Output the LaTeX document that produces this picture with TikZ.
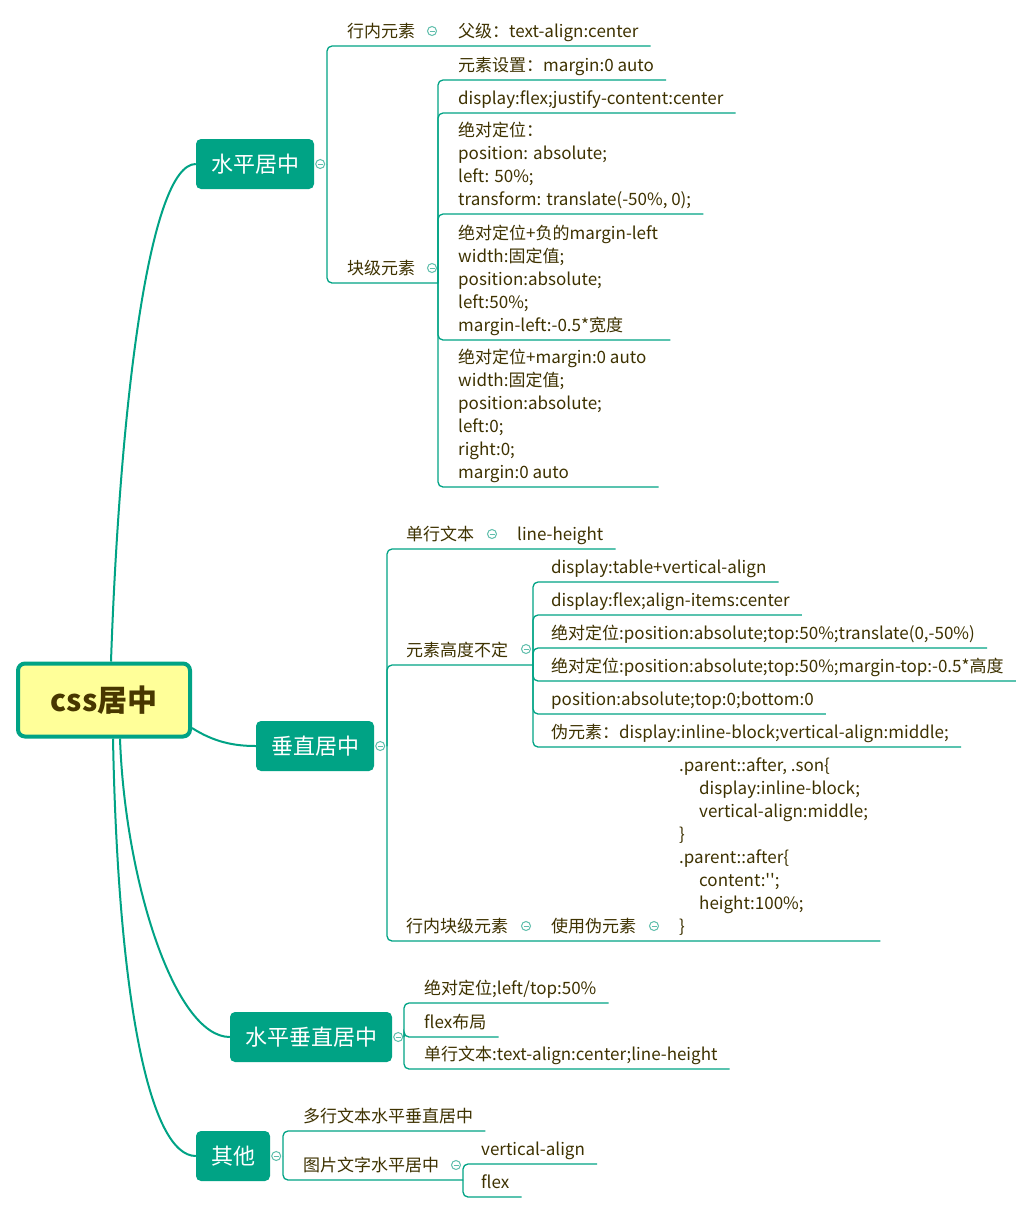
\documentclass[tikz,border=0pt]{standalone}
\usepackage{fontspec}
\setmainfont{Noto Sans CJK SC}[Ligatures=TeXOff]
\usepackage{tikz}
\definecolor{mindgreen}{RGB}{0,163,133}
\definecolor{foldgreen}{RGB}{95,190,172}
\definecolor{leafbrown}{RGB}{62,50,0}
\definecolor{rootyellow}{RGB}{255,255,153}
\definecolor{rootbrown}{RGB}{72,55,0}

\begin{document}
\begin{tikzpicture}[x=1pt, y=-1pt,
    root/.style={draw=mindgreen, line width=4pt, fill=rootyellow, rounded corners=7pt,
        minimum width=172pt, minimum height=73pt, text=rootbrown,
        font=\fontsize{30}{36}\selectfont\bfseries},
    topic/.style={fill=mindgreen, rounded corners=5pt, inner xsep=15pt, minimum height=50pt,
        text=white, font=\fontsize{22}{26}\selectfont},
    leaf/.style={anchor=south west, inner xsep=0pt, inner ysep=4pt, text depth=4.7pt,
        align=left, text=leafbrown, font=\fontsize{17}{23}\selectfont},
    trunk/.style={draw=mindgreen, line width=2pt},
    branch/.style={draw=mindgreen, line width=1.3pt, rounded corners=5pt},
    fold/.style={circle, draw=foldgreen, fill=white, line width=1pt, minimum size=9pt, inner sep=0pt,
        path picture={\draw[foldgreen, line width=1pt] ([xshift=-2.5pt]path picture bounding box.center) -- ([xshift=2.5pt]path picture bounding box.center);}}
]
    \path[fill=white, use as bounding box] (0,0) rectangle (1036,1213);

    \node[root] (css) at (104,700) {css居中};

    \node[topic] (hc) at (255,164) {水平居中};
    \node[topic] (vc) at (315,746) {垂直居中};
    \node[topic] (hv) at (311,1037) {水平垂直居中};
    \node[topic] (ot) at (233,1156) {其他};

    \draw[trunk] ([xshift=7pt]css.north) .. controls +(9,-261) and +(-46,0) .. (hc.west);
    \draw[trunk] ([yshift=-28pt]css.east) .. controls +(22,14) and +(-22,0) .. (vc.west);
    \draw[trunk] ([xshift=16pt]css.south) .. controls +(5,142) and +(-55,0) .. (hv.west);
    \draw[trunk] ([xshift=9pt]css.south) .. controls +(5,262) and +(-46,0) .. (ot.west);

    % 水平居中
    \node[fold] (hcf) at ([xshift=6pt]hc.east) {};
    \coordinate (hcj) at (327,164);
    \node[leaf] (inl) at (347,46) {行内元素};
    \node[fold] (inlf) at (432,31) {};
    \coordinate (inlj) at (438,46);
    \node[leaf] (inl1) at (458,46) {父级：text-align:center};
    \node[leaf] (blk) at (347,283) {块级元素};
    \node[fold] (blkf) at (432,268) {};
    \coordinate (blkj) at (438,283);
    \node[leaf] (b1) at (458,80) {元素设置：margin:0 auto};
    \node[leaf] (b2) at (458,113) {display:flex;justify-content:center};
    \node[leaf] (b3) at (458,214) {绝对定位：\\position: absolute;\\left: 50\%;\\transform: translate(-50\%, 0);};
    \node[leaf] (b4) at (458,340) {绝对定位+负的margin-left\\width:固定值;\\position:absolute;\\left:50\%;\\margin-left:-0.5*宽度};
    \node[leaf] (b5) at (458,487) {绝对定位+margin:0 auto\\width:固定值;\\position:absolute;\\left:0;\\right:0;\\margin:0 auto};

    \draw[branch] (hcj) |- (inl.south west) -- (inlj) -- ([xshift=12pt]inl1.south east);
    \draw[branch] (hcj) |- (blk.south west) -- (blkj);
    \draw[branch] (blkj) |- (b1.south west) -- ([xshift=12pt]b1.south east);
    \draw[branch] (blkj) |- (b2.south west) -- ([xshift=12pt]b2.south east);
    \draw[branch] (blkj) |- (b3.south west) -- ([xshift=12pt]b3.south east);
    \draw[branch] (blkj) |- (b4.south west) -- ([xshift=12pt]b4.south east);
    \draw[branch] (blkj) |- (b5.south west) -- ([xshift=12pt]b5.south east);

    % 垂直居中
    \node[fold] (vcf) at ([xshift=6pt]vc.east) {};
    \coordinate (vcj) at (387,746);
    \node[leaf] (sl) at (406,549) {单行文本};
    \node[fold] (slf) at (492,534) {};
    \coordinate (slj) at (498,549);
    \node[leaf] (sl1) at (517,549) {line-height};
    \node[leaf] (eh) at (406,665) {元素高度不定};
    \node[fold] (ehf) at (526,649) {};
    \coordinate (ehj) at (533,665);
    \node[leaf] (e1) at (551,582) {display:table+vertical-align};
    \node[leaf] (e2) at (551,615) {display:flex;align-items:center};
    \node[leaf] (e3) at (551,648) {绝对定位:position:absolute;top:50\%;translate(0,-50\%)};
    \node[leaf] (e4) at (551,681) {绝对定位:position:absolute;top:50\%;margin-top:-0.5*高度};
    \node[leaf] (e5) at (551,714) {position:absolute;top:0;bottom:0};
    \node[leaf] (e6) at (551,747) {伪元素：display:inline-block;vertical-align:middle;};
    \node[leaf] (ib) at (406,941) {行内块级元素};
    \node[fold] (ibf) at (526,926) {};
    \node[leaf] (ps) at (551,941) {使用伪元素};
    \node[fold] (psf) at (654,926) {};
    \node[leaf] (code) at (679,941) {.parent::after, .son\{\\\hspace*{20pt}display:inline-block;\\\hspace*{20pt}vertical-align:middle;\\\}\\.parent::after\{\\\hspace*{20pt}content:'';\\\hspace*{20pt}height:100\%;\\\}};

    \draw[branch] (vcj) |- (sl.south west) -- (slj) -- ([xshift=12pt]sl1.south east);
    \draw[branch] (vcj) |- (eh.south west) -- (ehj);
    \draw[branch] (ehj) |- (e1.south west) -- ([xshift=12pt]e1.south east);
    \draw[branch] (ehj) |- (e2.south west) -- ([xshift=12pt]e2.south east);
    \draw[branch] (ehj) |- (e3.south west) -- ([xshift=12pt]e3.south east);
    \draw[branch] (ehj) |- (e4.south west) -- ([xshift=12pt]e4.south east);
    \draw[branch] (ehj) |- (e5.south west) -- ([xshift=12pt]e5.south east);
    \draw[branch] (ehj) |- (e6.south west) -- ([xshift=12pt]e6.south east);
    \draw[branch] (vcj) |- (ib.south west) -- (ps.south west) -- (code.south west) -- ([xshift=12pt]code.south east);

    % 水平垂直居中
    \node[fold] (hvf) at ([xshift=6pt]hv.east) {};
    \coordinate (hvj) at (404,1037);
    \node[leaf] (h1) at (424,1003) {绝对定位;left/top:50\%};
    \node[leaf] (h2) at (424,1037) {flex布局};
    \node[leaf] (h3) at (424,1069) {单行文本:text-align:center;line-height};
    \draw[branch] (hvj) |- (h1.south west) -- ([xshift=12pt]h1.south east);
    \draw[branch] (hvj) |- (h2.south west) -- ([xshift=12pt]h2.south east);
    \draw[branch] (hvj) |- (h3.south west) -- ([xshift=12pt]h3.south east);

    % 其他
    \node[fold] (otf) at ([xshift=6pt]ot.east) {};
    \coordinate (otj) at (283,1156);
    \node[leaf] (mt) at (303,1131) {多行文本水平垂直居中};
    \node[leaf] (pic) at (303,1180) {图片文字水平居中};
    \node[fold] (picf) at (456,1165) {};
    \coordinate (picj) at (463,1180);
    \node[leaf] (va) at (481,1164) {vertical-align};
    \node[leaf] (fx) at (481,1197) {flex};
    \draw[branch] (otj) |- (mt.south west) -- ([xshift=12pt]mt.south east);
    \draw[branch] (otj) |- (pic.south west) -- (picj);
    \draw[branch] (picj) |- (va.south west) -- ([xshift=12pt]va.south east);
    \draw[branch] (picj) |- (fx.south west) -- ([xshift=12pt]fx.south east);
\end{tikzpicture}
\end{document}
